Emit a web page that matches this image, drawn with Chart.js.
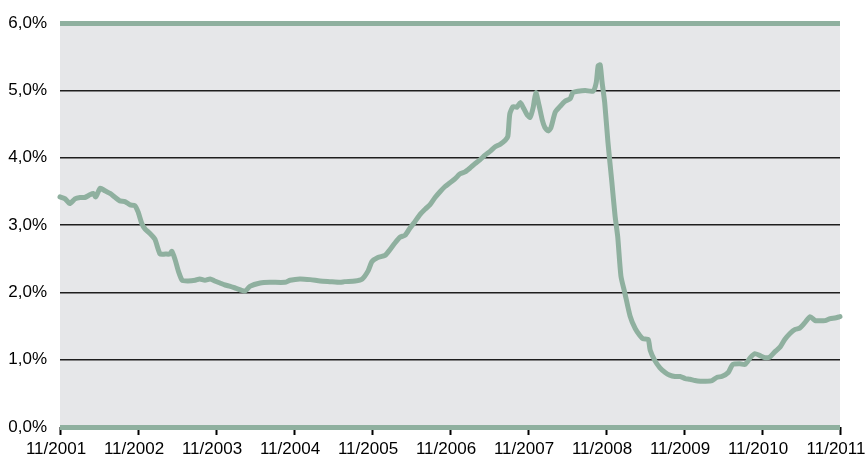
<!DOCTYPE html>
<html>
<head>
<meta charset="utf-8">
<script src="https://cdn.jsdelivr.net/npm/chart.js@4/dist/chart.umd.min.js"></script>
<style>
html,body{margin:0;padding:0;background:#fff;}
#wrap{width:867px;height:455px;position:relative;}
</style>
</head>
<body>
<div id="wrap"><canvas id="c" width="867" height="455"></canvas></div>
<script>
// Months elapsed since 11/2001
const months = [0,0.8,1.5,2.3,3.1,3.8,4.6,5.1,5.5,6.2,6.9,7.7,8.5,9.2,10,10.8,11.5,12,12.6,13.1,13.8,14.6,15.4,16.2,16.9,17.2,17.7,18.2,18.8,19.7,20.8,21.5,22.3,23.1,23.8,24.6,25.4,26.2,27.1,28.5,29.2,30.8,32.3,34.6,35.4,36.9,38.5,40,41.5,43.1,43.8,45.4,46.5,47.4,48,48.9,50,50.8,51.5,52.3,53.1,53.8,54.6,55.4,56.2,56.9,57.7,58.5,59.2,60,60.8,61.5,62.3,63.1,63.8,64.6,65.4,66.2,66.9,67.7,68.5,68.9,69.2,69.7,70.3,70.8,71.2,71.8,72.3,72.8,73.2,73.7,74.2,74.6,75.1,75.5,76.2,76.9,77.7,78.5,78.9,79.7,80.8,82,82.5,82.8,83.1,83.4,83.8,84.3,84.9,85.4,85.8,86.3,86.9,87.7,88.5,89.2,89.7,90.5,90.8,91.5,92.3,93.1,93.8,94.6,95.4,96.2,96.9,97.7,98.5,99.2,100.3,101.1,101.8,102.8,103.5,104.6,105.4,106.2,106.9,107.7,108.5,109.2,110,110.8,111.5,112.3,113.1,113.8,114.6,115.4,116.2,116.9,117.7,118.5,119.2,120];
// Rate in percent
const rates = [3.42,3.39,3.32,3.39,3.41,3.41,3.45,3.47,3.42,3.55,3.51,3.47,3.41,3.36,3.35,3.30,3.29,3.20,3.02,2.94,2.88,2.79,2.57,2.57,2.57,2.61,2.49,2.32,2.18,2.17,2.18,2.20,2.18,2.20,2.17,2.14,2.11,2.09,2.06,2.02,2.09,2.14,2.15,2.15,2.18,2.20,2.19,2.17,2.16,2.15,2.16,2.17,2.20,2.32,2.46,2.52,2.55,2.64,2.73,2.82,2.85,2.95,3.05,3.16,3.24,3.30,3.41,3.50,3.57,3.63,3.69,3.76,3.79,3.85,3.91,3.97,4.04,4.10,4.16,4.20,4.26,4.32,4.65,4.76,4.75,4.82,4.76,4.65,4.60,4.75,4.97,4.78,4.56,4.45,4.40,4.44,4.68,4.76,4.84,4.88,4.97,4.99,5.00,4.99,5.12,5.37,5.38,5.12,4.82,4.23,3.64,3.13,2.83,2.24,1.99,1.65,1.46,1.36,1.31,1.30,1.14,0.99,0.88,0.81,0.77,0.75,0.75,0.72,0.71,0.69,0.68,0.68,0.69,0.74,0.75,0.81,0.93,0.94,0.93,1.03,1.09,1.06,1.03,1.04,1.12,1.19,1.30,1.39,1.45,1.47,1.55,1.64,1.58,1.58,1.58,1.61,1.62,1.64];
const xTickLabels = ['11/2001','11/2002','11/2003','11/2004','11/2005','11/2006','11/2007','11/2008','11/2009','11/2010','11/2011'];
const yTickLabels = ['0,0%','1,0%','2,0%','3,0%','4,0%','5,0%','6,0%'];

const GREEN = '#8fb09f';
const bgPlugin = {
  id: 'bg',
  beforeDraw(chart) {
    const a = chart.chartArea, ctx = chart.ctx;
    ctx.save();
    ctx.fillStyle = '#e6e7e9';
    ctx.fillRect(a.left, a.top - 2, a.right - a.left, a.bottom - a.top + 2);
    ctx.restore();
  }
};

new Chart(document.getElementById('c'), {
  type: 'line',
  data: {
    datasets: [{
      data: months.map((m, i) => ({x: m, y: rates[i]})),
      borderColor: GREEN,
      borderWidth: 5,
      pointRadius: 0,
      tension: 0.2,
      borderJoinStyle: 'round',
      borderCapStyle: 'round',
      clip: false
    }]
  },
  options: {
    responsive: false,
    animation: false,
    devicePixelRatio: 1,
    layout: {padding: {top: 21, right: 27, left: 0, bottom: 0}},
    plugins: {legend: {display: false}, tooltip: {enabled: false}},
    scales: {
      x: {
        type: 'linear', min: 0, max: 120,
        afterBuildTicks(s) { s.ticks = xTickLabels.map((l, i) => ({value: i * 12})); },
        afterFit(s) { s.height = 28; s.paddingLeft = 0; s.paddingRight = 0; },
        ticks: {
          callback: (v) => xTickLabels[Math.round(v / 12)],
          color: '#000', font: {family: 'Liberation Sans, Arial, sans-serif', size: 17},
          padding: 4, maxRotation: 0, autoSkip: false, labelOffset: -4
        },
        grid: {drawOnChartArea: false, drawTicks: true, tickLength: 8, tickColor: '#000', tickWidth: 2},
        border: {display: false}
      },
      y: {
        min: 0, max: 6,
        afterBuildTicks(s) { s.ticks = yTickLabels.map((l, i) => ({value: i})); },
        afterFit(s) { s.width = 60; },
        ticks: {
          callback: (v) => yTickLabels[Math.round(v)],
          color: '#000', font: {family: 'Liberation Sans, Arial, sans-serif', size: 17},
          padding: 13
        },
        grid: {
          drawTicks: false,
          color: (c) => (c.tick && (c.tick.value === 0 || c.tick.value === 6)) ? GREEN : '#1e1e1e',
          lineWidth: (c) => (c.tick && (c.tick.value === 0 || c.tick.value === 6)) ? 5 : 1.5
        },
        border: {display: false}
      }
    }
  },
  plugins: [bgPlugin]
});
</script>
</body>
</html>
